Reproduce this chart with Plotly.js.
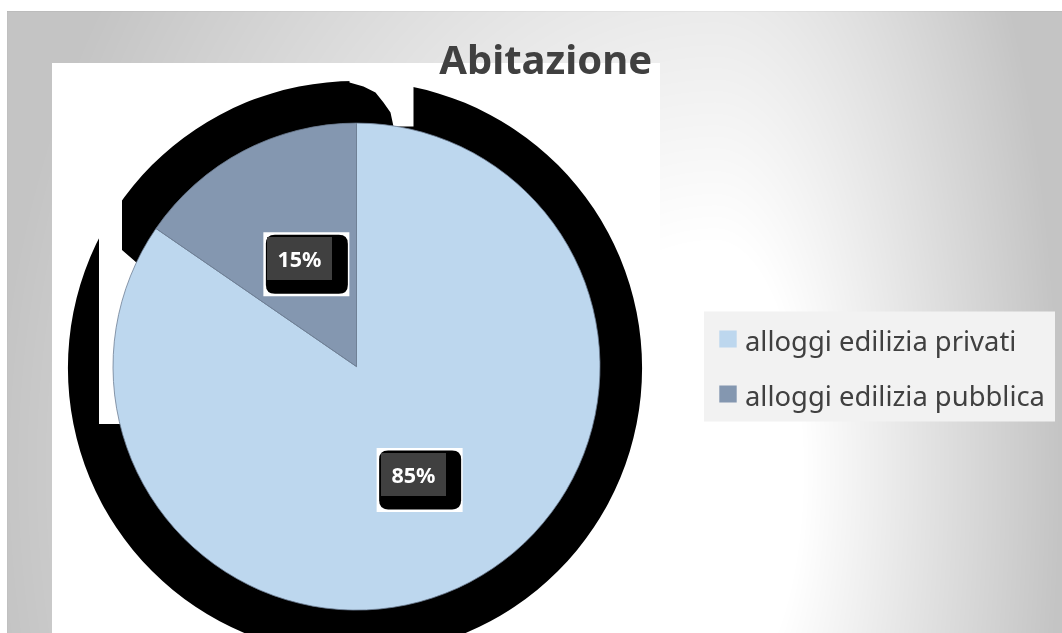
<!DOCTYPE html>
<html>
<head>
<meta charset="utf-8">
<script src="https://cdn.plot.ly/plotly-3.0.1.min.js"></script>
<style>
html,body{margin:0;padding:0;background:#ffffff;width:1062px;height:633px;overflow:hidden}
#bg{position:absolute;left:7px;top:11px;width:1055px;height:622px}
#chart{position:absolute;left:0;top:0;width:1062px;height:633px}
</style>
</head>
<body>
<canvas id="bg" width="1055" height="622"></canvas>
<div id="chart"></div>
<script>
// ---- data ----
const chartTitle = 'Abitazione';
const categories = ['alloggi edilizia privati', 'alloggi edilizia pubblica'];
const values = [84.6, 15.4];
const colors = ['#BDD7EE', '#8497B0'];

// ---- chart-area background (soft gradient, grey at the edges) ----
(function () {
  const cv = document.getElementById('bg');
  const ctx = cv.getContext('2d');
  const w = cv.width, h = cv.height;
  const img = ctx.createImageData(w, h);
  const gx = 708, gy = 459; // gradient centre in canvas pixels
  for (let y = 0; y < h; y++) {
    for (let x = 0; x < w; x++) {
      const dx = x - gx, dy = y - gy;
      const rx = dx < 0 ? 720 : 345, ry = 900;
      const t = Math.sqrt((dx / rx) * (dx / rx) + (dy / ry) * (dy / ry));
      const f = Math.min(1, Math.max(0, (t - 0.25) / 0.75));
      let v = Math.round(255 - 59 * f);
      if (y === 0) v -= 8;
      if (x === 0) v -= 4;
      const k = (y * w + x) * 4;
      img.data[k] = v; img.data[k + 1] = v; img.data[k + 2] = v; img.data[k + 3] = 255;
    }
  }
  ctx.putImageData(img, 0, 0);
})();

// ---- geometry (pixels) ----
const W = 1062, H = 633;
const PX = x => x / W, PY = y => 1 - y / H;
const P = (x, y) => PX(x).toFixed(5) + ',' + PY(y).toFixed(5);
const cx = 356.5, cy = 366.6, R = 243.5;

function poly(pts) { return 'M' + pts.map(p => P(cx + p[0], cy + p[1])).join('L') + 'Z'; }
function rrect(x0, y0, x1, y1, r) {
  return `M${P(x0 + r, y0)}L${P(x1 - r, y0)}Q${P(x1, y0)} ${P(x1, y0 + r)}L${P(x1, y1 - r)}Q${P(x1, y1)} ${P(x1 - r, y1)}L${P(x0 + r, y1)}Q${P(x0, y1)} ${P(x0, y1 - r)}L${P(x0, y0 + r)}Q${P(x0, y0)} ${P(x0 + r, y0)}Z`;
}

const total = values.reduce((a, b) => a + b, 0);
const pctText = values.map(v => Math.round(v / total * 100) + '%');
let cum = 0;
const labelPos = values.map(v => {
  const mid = (cum + v / 2) / total * 2 * Math.PI; cum += v;
  return [cx + 0.5 * R * Math.sin(mid), cy - 0.5 * R * Math.cos(mid)];
});

const shapes = [];
// plot area
shapes.push({type: 'rect', layer: 'below', xref: 'paper', yref: 'paper', x0: PX(52), x1: PX(660), y0: PY(640), y1: PY(63), fillcolor: '#ffffff', line: {width: 0}});
// shadow disc
const sR = R * 1.179, scx = cx - 1.5, scy = cy + 1.5;
shapes.push({type: 'circle', layer: 'below', xref: 'paper', yref: 'paper', x0: PX(scx - sR), x1: PX(scx + sR), y0: PY(scy + sR), y1: PY(scy - sR), fillcolor: '#000000', line: {width: 0}});
// gaps in the shadow
shapes.push({type: 'path', layer: 'below', xref: 'paper', yref: 'paper', fillcolor: '#ffffff', line: {width: 0},
  path: poly([[-7, -293], [57, -293], [57, -240], [37, -240], [34, -254], [27, -264], [19, -274], [7, -280], [-7, -284]])});
shapes.push({type: 'path', layer: 'below', xref: 'paper', yref: 'paper', fillcolor: '#ffffff', line: {width: 0},
  path: poly([[-257.5, 57.4], [-257.5, -128.6], [-281.5, -161.6], [-234.5, -178.6], [-234.5, -116.6], [-219.5, -103.6], [-156.5, -66.6], [-156.5, 57.4]])});

// data label boxes
const annotations = [];
labelPos.forEach((p, i) => {
  const [lx, ly] = p;
  shapes.push({type: 'rect', layer: 'above', xref: 'paper', yref: 'paper', x0: PX(lx - 36.5), x1: PX(lx + 49.5), y0: PY(ly + 37.5), y1: PY(ly - 26.5), fillcolor: '#ffffff', line: {width: 0}});
  shapes.push({type: 'path', layer: 'above', xref: 'paper', yref: 'paper', fillcolor: '#000000', line: {width: 0}, path: rrect(lx - 34, ly - 24, lx + 48, ly + 35, 9)});
  annotations.push({xref: 'paper', yref: 'paper', x: PX(lx), y: PY(ly), xanchor: 'center', yanchor: 'middle', showarrow: false,
    text: '<b>' + pctText[i] + '</b>', width: 65, height: 43, borderpad: 0, borderwidth: 0, bgcolor: '#404040',
    font: {family: '"Noto Sans", sans-serif', size: 21.5, color: '#ffffff'}});
});

// legend (box, swatches, labels)
shapes.push({type: 'rect', layer: 'above', xref: 'paper', yref: 'paper', x0: PX(704), x1: PX(1055), y0: PY(421.5), y1: PY(311.5), fillcolor: '#f2f2f2', line: {width: 0}});
categories.forEach((c, i) => {
  const yc = 339 + 55 * i;
  shapes.push({type: 'rect', layer: 'above', xref: 'paper', yref: 'paper', x0: PX(719.3), x1: PX(736.7), y0: PY(yc + 8.5), y1: PY(yc - 8.5), fillcolor: colors[i], line: {width: 0}});
  annotations.push({xref: 'paper', yref: 'paper', x: PX(743), y: PY(yc + 1), xanchor: 'left', yanchor: 'middle', showarrow: false,
    text: c, font: {family: '"Noto Sans", sans-serif', size: 27.4, color: '#404040'}});
});

const data = [{
  type: 'pie', labels: categories, values: values, sort: false, direction: 'clockwise', rotation: 0,
  marker: {colors: colors, line: {color: '#6f7f94', width: 0.8}},
  textinfo: 'none', hoverinfo: 'label+percent', showlegend: false,
  domain: {x: [PX(cx - R), PX(cx + R)], y: [PY(cy + R), PY(cy - R)]}
}];

const layout = {
  width: W, height: H, margin: {l: 0, r: 0, t: 0, b: 0, pad: 0},
  paper_bgcolor: 'rgba(0,0,0,0)', plot_bgcolor: 'rgba(0,0,0,0)',
  showlegend: false,
  title: {text: '<b>' + chartTitle + '</b>', x: 545.7 / W, xanchor: 'center', y: 1 - 60 / H, yanchor: 'middle',
    font: {family: '"Noto Sans", sans-serif', size: 40, color: '#404040'}},
  shapes: shapes, annotations: annotations
};

Plotly.newPlot('chart', data, layout, {displayModeBar: false, staticPlot: true});
</script>
</body>
</html>
